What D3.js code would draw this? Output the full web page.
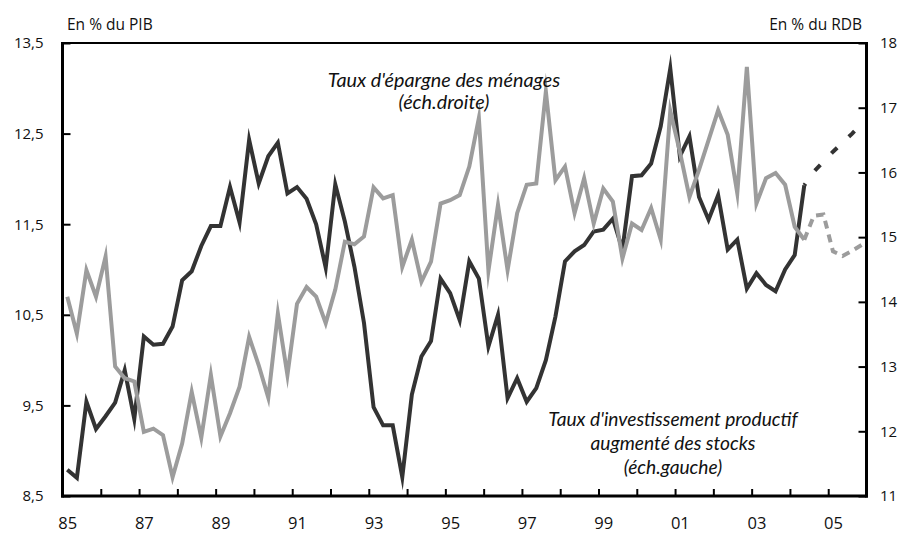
<!DOCTYPE html>
<html><head><meta charset="utf-8">
<script src="https://cdn.jsdelivr.net/npm/d3@7/dist/d3.min.js"></script>
<style>
body{margin:0;background:#fff}
svg{display:block}
.tick text{font-family:"Open Sans",sans-serif;fill:#111}
</style>
</head><body>
<svg id="chart" width="905" height="534"></svg>
<script>
// ---- data (quarterly, 1985Q1 onwards) ----
const startYear = 1985;
const endYear = 2006;
// Taux d'investissement productif augmenté des stocks (left scale, % du PIB)
const investActual = [
  8.79, 8.70, 9.54, 9.24, 9.38, 9.53, 9.89, 9.35,
  10.26, 10.17, 10.18, 10.37, 10.88, 10.98, 11.26, 11.48,
  11.48, 11.91, 11.52, 12.43, 11.95, 12.25, 12.40, 11.84,
  11.91, 11.78, 11.50, 11.02, 11.94, 11.53, 11.03, 10.41,
  9.48, 9.28, 9.28, 8.71, 9.62, 10.04, 10.21, 10.90,
  10.74, 10.44, 11.09, 10.90, 10.15, 10.50, 9.58, 9.80,
  9.54, 9.69, 10.00, 10.48, 11.09, 11.20, 11.27, 11.42,
  11.44, 11.56, 11.22, 12.03, 12.04, 12.17, 12.58, 13.22,
  12.25, 12.47, 11.80, 11.55, 11.82, 11.22, 11.33, 10.79,
  10.96, 10.83, 10.76, 11.00, 11.16, 11.93
];
// forecast from the last observed quarter (2004Q2) to 2005Q4
const investForecast = [11.93, 12.08, 12.19, 12.30, 12.40, 12.50, 12.61];
// Taux d'épargne des ménages (right scale, % du RDB)
const savingActual = [
  14.08, 13.51, 14.49, 14.08, 14.70, 13.00, 12.82, 12.77,
  11.99, 12.04, 11.94, 11.29, 11.81, 12.61, 11.90, 12.87,
  11.92, 12.28, 12.69, 13.46, 13.02, 12.52, 13.82, 12.87,
  13.97, 14.23, 14.08, 13.67, 14.19, 14.93, 14.89, 15.01,
  15.77, 15.60, 15.65, 14.54, 14.96, 14.31, 14.62, 15.52,
  15.57, 15.65, 16.09, 16.84, 14.48, 15.50, 14.49, 15.37,
  15.81, 15.83, 17.25, 15.88, 16.09, 15.37, 15.91, 15.21,
  15.75, 15.55, 14.67, 15.21, 15.11, 15.45, 14.96, 16.95,
  16.32, 15.62, 16.04, 16.50, 16.96, 16.58, 15.68, 17.63,
  15.52, 15.91, 15.99, 15.81, 15.16, 14.96
];
const savingForecast = [14.96, 15.33, 15.35, 14.78, 14.71, 14.79, 14.88];

const yearTicks = [1985,1986,1987,1988,1989,1990,1991,1992,1993,1994,1995,1996,1997,1998,1999,2000,2001,2002,2003,2004,2005,2006];
const yearLabelValues = [1985,1987,1989,1991,1993,1995,1997,1999,2001,2003,2005];
const yearLabels = ["85","87","89","91","93","95","97","99","01","03","05"];
const leftTicks = [8.5, 9.5, 10.5, 11.5, 12.5, 13.5];
const leftLabels = ["8,5","9,5","10,5","11,5","12,5","13,5"];
const rightTicks = [11, 12, 13, 14, 15, 16, 17, 18];
const rightLabels = ["11","12","13","14","15","16","17","18"];

const leftUnit = "En % du PIB";
const rightUnit = "En % du RDB";
const savingLabel = ["Taux d'épargne des ménages", "(éch.droite)"];
const investLabel = ["Taux d'investissement productif", "augmenté des stocks", "(éch.gauche)"];

// ---- layout ----
const L = 62.5, R = 866.5, T = 43, B = 496;
const svg = d3.select("#chart");

const x = d3.scaleLinear().domain([startYear, endYear]).range([L, R]);
const yL = d3.scaleLinear().domain([8.5, 13.5]).range([B, T]);
const yR = d3.scaleLinear().domain([11, 18]).range([B, T]);

const qt = i => startYear + (i + 0.5) / 4;
const toPts = (arr, offset) => arr.map((v, i) => ({t: qt(i + offset), v}));

// axes
const gL = svg.append("g").attr("transform", `translate(${L},0)`)
  .call(d3.axisLeft(yL).tickValues(leftTicks).tickFormat((d,i)=>leftLabels[i]).tickSize(-8).tickPadding(19));
const gR = svg.append("g").attr("transform", `translate(${R},0)`)
  .call(d3.axisRight(yR).tickValues(rightTicks).tickFormat((d,i)=>rightLabels[i]).tickSize(-8).tickPadding(13.5));
const gB = svg.append("g").attr("transform", `translate(0,${B})`)
  .call(d3.axisBottom(x).tickValues(yearTicks).tickFormat("").tickSize(-7));
const gBL = svg.append("g").attr("transform", `translate(0,${B})`)
  .call(d3.axisBottom(x).tickValues(yearLabelValues.map(v => v + 0.125)).tickFormat((d,i)=>yearLabels[i]).tickSize(0).tickPadding(21.3));

[gL, gR, gB, gBL].forEach(g => {
  g.select(".domain").remove();
  g.selectAll(".tick line").attr("stroke", "#000").attr("stroke-width", 2);
});
gL.selectAll(".tick text").attr("font-size", 15);
gR.selectAll(".tick text").attr("font-size", 15);
gBL.selectAll(".tick text").attr("font-size", 16.5);

// series
const lineL = d3.line().x(d => x(d.t)).y(d => yL(d.v));
const lineR = d3.line().x(d => x(d.t)).y(d => yR(d.v));
const nAct = investActual.length;

svg.append("path").attr("d", lineL(toPts(investForecast, nAct - 1)))
  .attr("fill","none").attr("stroke","#333").attr("stroke-width",4)
  .attr("stroke-dasharray","8,16").attr("stroke-dashoffset",6);
svg.append("path").attr("d", lineL(toPts(investActual, 0)))
  .attr("fill","none").attr("stroke","#333").attr("stroke-width",4)
  .attr("stroke-linejoin","miter").attr("stroke-miterlimit",10);
svg.append("path").attr("d", lineR(toPts(savingForecast, savingActual.length - 1)))
  .attr("fill","none").attr("stroke","#9c9c9c").attr("stroke-width",4)
  .attr("stroke-dasharray","8,6");
svg.append("path").attr("d", lineR(toPts(savingActual, 0)))
  .attr("fill","none").attr("stroke","#9c9c9c").attr("stroke-width",4)
  .attr("stroke-linejoin","miter").attr("stroke-miterlimit",10);

// frame
svg.append("line").attr("x1",L-1.5).attr("x2",R+1.5).attr("y1",T).attr("y2",T).attr("stroke","#000").attr("stroke-width",2);
svg.append("line").attr("x1",L-1.5).attr("x2",R+1.5).attr("y1",B).attr("y2",B).attr("stroke","#000").attr("stroke-width",3);
svg.append("line").attr("x1",L).attr("x2",L).attr("y1",T-1).attr("y2",B+1.5).attr("stroke","#000").attr("stroke-width",3);
svg.append("line").attr("x1",R).attr("x2",R).attr("y1",T-1).attr("y2",B+1.5).attr("stroke","#000").attr("stroke-width",3);

// units
svg.append("text").attr("x", 67).attr("y", 29.5).text(leftUnit)
  .attr("font-family","'Open Sans',sans-serif").attr("font-size",15.5).attr("fill","#111");
svg.append("text").attr("x", 862).attr("y", 29.5).attr("text-anchor","end").text(rightUnit)
  .attr("font-family","'Open Sans',sans-serif").attr("font-size",15.5).attr("fill","#111");

// annotations
const ann = (lines, cx, y0, dy, fs) => {
  const t = svg.append("text").attr("font-family","Lato,sans-serif").attr("font-style","italic")
    .attr("font-size",fs).attr("fill","#111").attr("text-anchor","middle");
  lines.forEach((s, i) => t.append("tspan").attr("x", cx).attr("y", y0 + i*dy).text(s));
};
ann(savingLabel, 444, 86.5, 22.5, 19.8);
ann(investLabel, 673, 426, 24, 19.2);
</script>
</body></html>
